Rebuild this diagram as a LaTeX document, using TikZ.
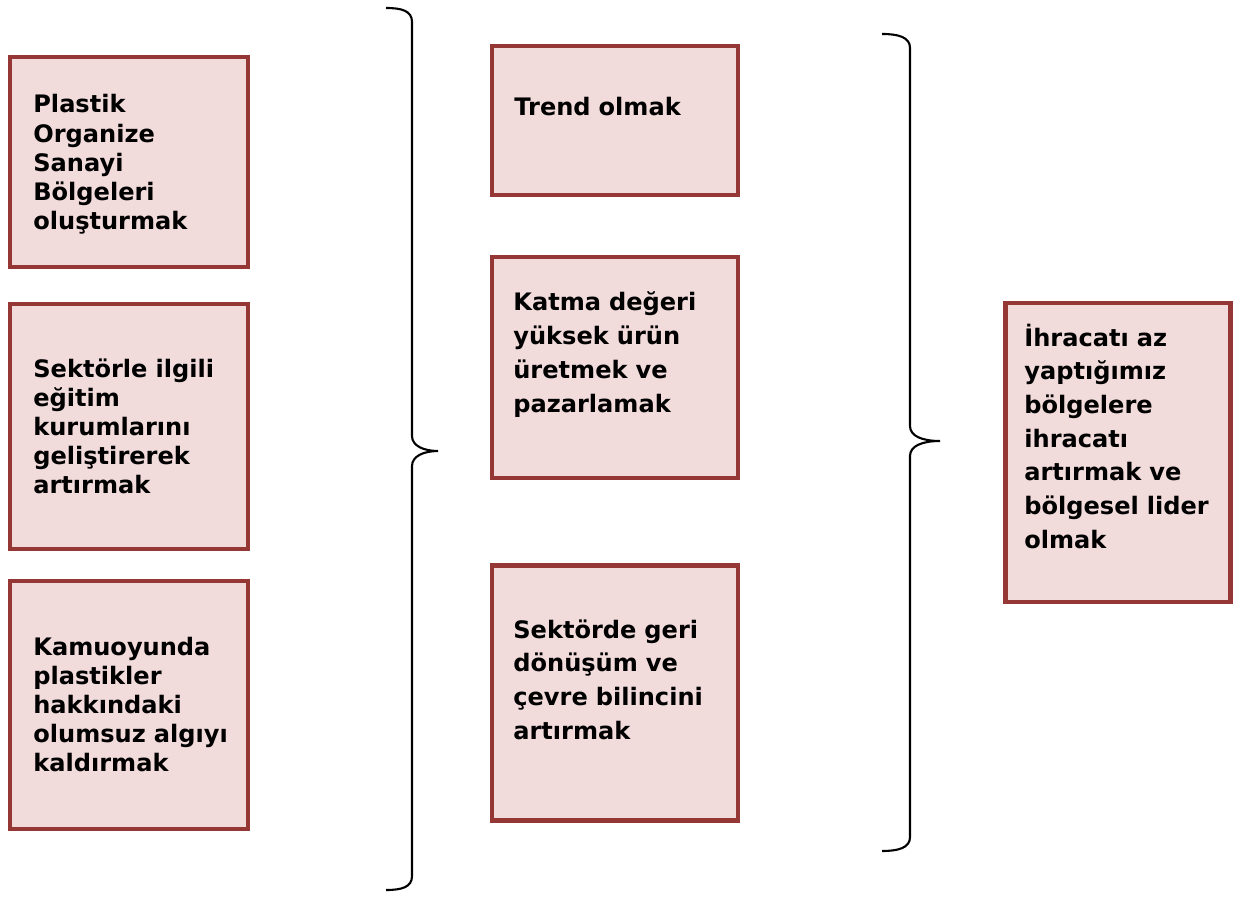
\documentclass[tikz,border=0pt]{standalone}
\usepackage{fontspec}
\setmainfont{DejaVu Sans}
\usetikzlibrary{positioning}
\definecolor{BoxRed}{HTML}{953734}
\definecolor{SoftPink}{HTML}{F2DBDB}
\tikzset{
  goalbox/.style={draw=BoxRed, line width=2.6pt, fill=SoftPink, inner sep=0pt},
  goaltext/.style={anchor=base west, inner sep=0pt, text width=4.4cm, align=left, font=\bfseries\fontsize{13.7}{16.6}\selectfont},
  widetext/.style={goaltext, font=\bfseries\fontsize{13.7}{19.2}\selectfont},
  brace/.style={line width=1.2pt, draw=black}
}

\begin{document}
\begin{tikzpicture}[x=0.02cm,y=-0.02cm]
\useasboundingbox (0,0) rectangle (1236,898);

% left column
\node[goalbox, minimum width=4.76cm, minimum height=4.2cm] (plastik) at (129,162) {};
\node[goalbox, minimum width=4.76cm, minimum height=4.9cm] (egitim) at (129,426.5) {};
\node[goalbox, minimum width=4.76cm, minimum height=4.96cm] (algi) at (129,705) {};
\node[goaltext] (plastiktxt) at (33,113) {Plastik\\Organize\\Sanayi\\Bölgeleri\\oluşturmak};
\node[goaltext] (egitimtxt) at (33,377) {Sektörle ilgili\\eğitim\\kurumlarını\\geliştirerek\\artırmak};
\node[goaltext] (algitxt) at (33,655) {Kamuoyunda\\plastikler\\hakkındaki\\olumsuz algıyı\\kaldırmak};

% middle column
\node[goalbox, minimum width=4.92cm, minimum height=2.98cm] (trend) at (615,120.5) {};
\node[goalbox, minimum width=4.92cm, minimum height=4.42cm] (katma) at (615,367.5) {};
\node[goalbox, minimum width=4.92cm, minimum height=5.1cm] (donusum) at (615,693) {};
\node[widetext] (trendtxt) at (514,116) {Trend olmak};
\node[widetext] (katmatxt) at (513,311) {Katma değeri\\yüksek ürün\\üretmek ve\\pazarlamak};
\node[widetext] (donusumtxt) at (513,638) {Sektörde geri\\dönüşüm ve\\çevre bilincini\\artırmak};

% right column
\node[goalbox, minimum width=4.5cm, minimum height=5.98cm] (ihracat) at (1118,452.5) {};
\node[widetext] (ihracattxt) at (1024,346) {İhracatı az\\yaptığımız\\bölgelere\\ihracatı\\artırmak ve\\bölgesel lider\\olmak};

% braces
\draw[brace] (386,8) .. controls (402,8) and (412,11) .. (412,22) -- (412,436)
  .. controls (412,446) and (424,451) .. (438,451)
  .. controls (424,451) and (412,456) .. (412,466) -- (412,876)
  .. controls (412,887) and (402,890) .. (386,890);
\draw[brace] (882,34) .. controls (898,34) and (910,37) .. (910,48) -- (910,426)
  .. controls (910,436) and (922,441) .. (940,441)
  .. controls (922,441) and (910,446) .. (910,456) -- (910,837)
  .. controls (910,848) and (898,851) .. (882,851);
\end{tikzpicture}
\end{document}
